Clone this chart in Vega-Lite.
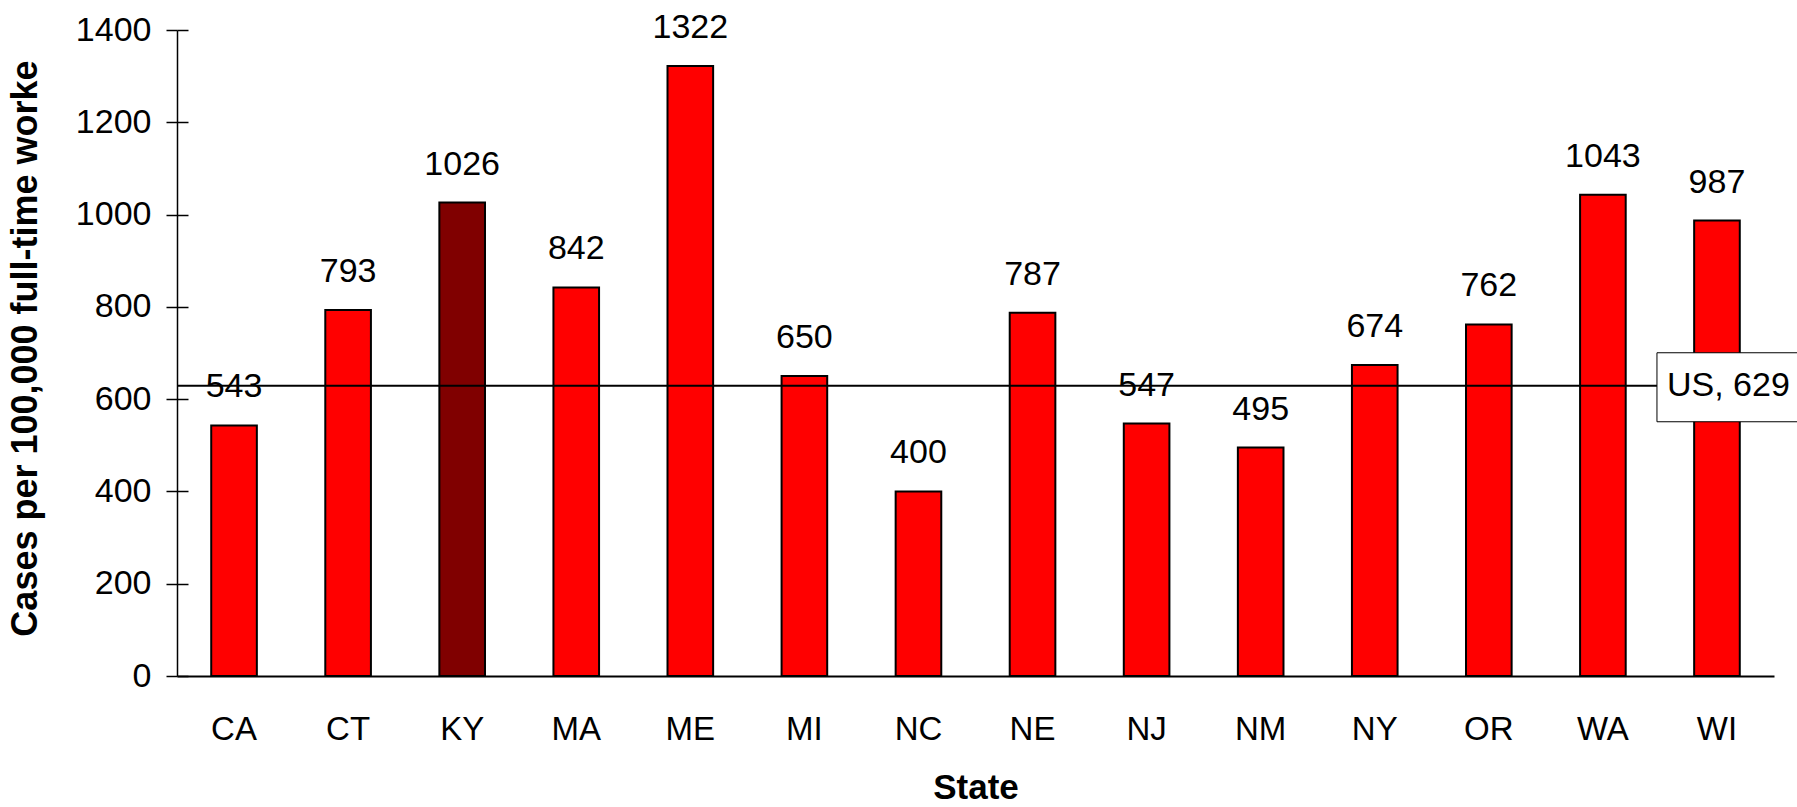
{
  "$schema": "https://vega.github.io/schema/vega-lite/v6.json",
  "width": 1597,
  "height": 646,
  "autosize": {"type": "none"},
  "padding": {"left": 177, "top": 30, "right": 23, "bottom": 131},
  "background": "white",
  "config": {"view": {"stroke": null}, "font": "Liberation Sans"},
  "datasets": {
    "states": [
      {"state": "CA", "cases": 543, "highlight": "no"},
      {"state": "CT", "cases": 793, "highlight": "no"},
      {"state": "KY", "cases": 1026, "highlight": "yes"},
      {"state": "MA", "cases": 842, "highlight": "no"},
      {"state": "ME", "cases": 1322, "highlight": "no"},
      {"state": "MI", "cases": 650, "highlight": "no"},
      {"state": "NC", "cases": 400, "highlight": "no"},
      {"state": "NE", "cases": 787, "highlight": "no"},
      {"state": "NJ", "cases": 547, "highlight": "no"},
      {"state": "NM", "cases": 495, "highlight": "no"},
      {"state": "NY", "cases": 674, "highlight": "no"},
      {"state": "OR", "cases": 762, "highlight": "no"},
      {"state": "WA", "cases": 1043, "highlight": "no"},
      {"state": "WI", "cases": 987, "highlight": "no"}
    ],
    "us": [{"label": "US, 629", "value": 629, "state": "WI"}]
  },
  "resolve": {"axis": {"y": "independent"}},
  "layer": [
    {
      "data": {"name": "states"},
      "mark": {"type": "bar", "stroke": "black", "strokeWidth": 2},
      "encoding": {
        "x": {
          "field": "state", "type": "nominal", "sort": null, "title": "State",
          "scale": {"paddingInner": 0.6, "paddingOuter": 0.3},
          "axis": {
            "labelAngle": 0, "labelFont": "Liberation Sans", "labelFontSize": 33, "labelColor": "black",
            "labelPadding": 37, "ticks": false, "tickSize": 0,
            "domainColor": "black", "domainWidth": 2,
            "titleFont": "Liberation Sans", "titleFontSize": 35, "titleFontWeight": "bold", "titleColor": "black",
            "titleY": 122, "titleBaseline": "alphabetic"
          }
        },
        "y": {
          "field": "cases", "type": "quantitative",
          "scale": {"domain": [0, 1400], "nice": false},
          "title": "Cases per 100,000 full-time worke",
          "axis": {
            "orient": "left", "values": [0, 200, 400, 600, 800, 1000, 1200, 1400],
            "grid": false, "format": "d",
            "labelFont": "Liberation Sans", "labelFontSize": 34, "labelColor": "black", "labelPadding": 15,
            "tickSize": 11, "tickColor": "black", "tickWidth": 1.5,
            "domainColor": "black", "domainWidth": 1.5,
            "titleFont": "Liberation Sans", "titleFontSize": 36, "titleFontWeight": "bold", "titleColor": "black",
            "titleAngle": -90, "titleX": -141, "titleY": 318, "titleAlign": "center", "titleBaseline": "alphabetic"
          }
        },
        "color": {
          "field": "highlight", "type": "nominal",
          "scale": {"domain": ["no", "yes"], "range": ["#FF0000", "#800000"]},
          "legend": null
        }
      }
    },
    {
      "data": {"name": "states"},
      "mark": {"type": "text", "font": "Liberation Sans", "fontSize": 34, "color": "black", "baseline": "alphabetic", "dy": -28},
      "encoding": {
        "x": {"field": "state", "type": "nominal", "sort": null, "title": "State"},
        "y": {"field": "cases", "type": "quantitative", "axis": null},
        "text": {"field": "cases", "type": "quantitative", "format": "d"}
      }
    },
    {
      "data": {"name": "us"},
      "mark": {"type": "rule", "color": "black", "strokeWidth": 2},
      "encoding": {
        "y": {
          "field": "value", "type": "quantitative", "title": null,
          "axis": {
            "orient": "left", "offset": -11, "values": [0, 200, 400, 600, 800, 1000, 1200, 1400],
            "grid": false, "labels": false, "domain": false,
            "tickSize": 11, "tickColor": "black", "tickWidth": 1.5
          }
        }
      }
    },
    {
      "data": {"name": "us"},
      "mark": {"type": "bar", "fill": "white", "stroke": "black", "strokeWidth": 1, "width": 150, "xOffset": 15, "yOffset": -33, "y2Offset": 36},
      "encoding": {
        "x": {"field": "state", "type": "nominal", "sort": null, "title": "State"},
        "y": {"field": "value", "type": "quantitative", "axis": null},
        "y2": {"field": "value"}
      }
    },
    {
      "data": {"name": "us"},
      "mark": {"type": "text", "font": "Liberation Sans", "fontSize": 34, "color": "black", "align": "left", "baseline": "middle", "dx": -50},
      "encoding": {
        "x": {"field": "state", "type": "nominal", "sort": null, "title": "State"},
        "y": {"field": "value", "type": "quantitative", "axis": null},
        "text": {"field": "label", "type": "nominal"}
      }
    }
  ]
}
